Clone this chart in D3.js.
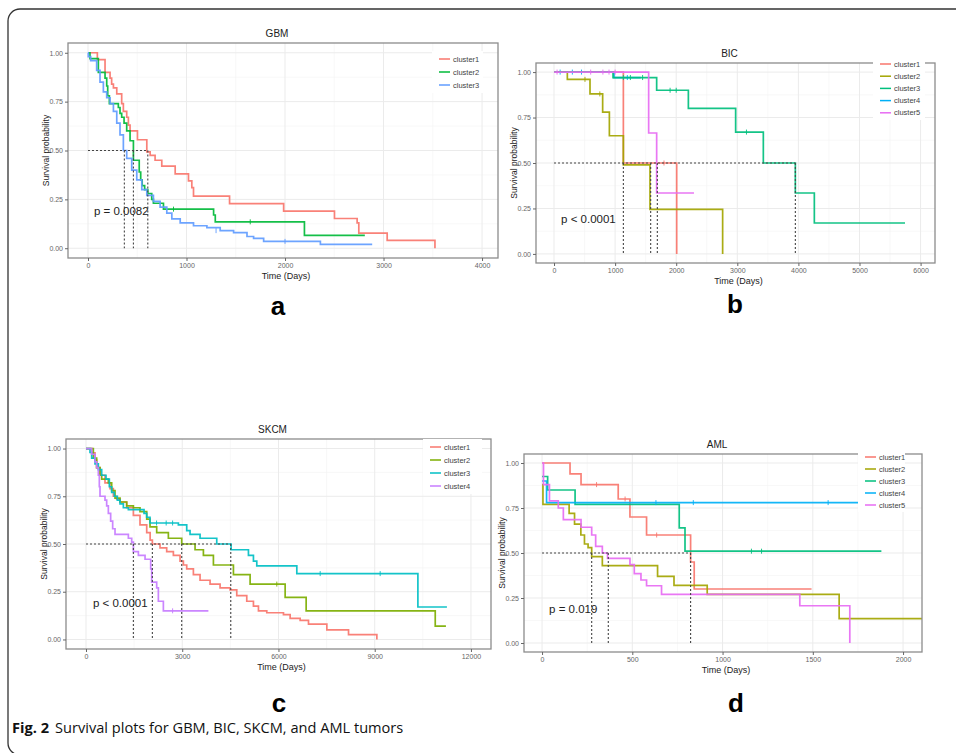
<!DOCTYPE html>
<html>
<head>
<meta charset="utf-8">
<script src="https://cdn.jsdelivr.net/npm/d3@7"></script>
<style>
body { margin: 0; background: #fff; }
svg text { font-family: "Liberation Sans", Arial, sans-serif; }
</style>
</head>
<body>
<svg id="fig" width="956" height="753"></svg>
<script>
// ---- data: [day, survival] steps ----
var gbmC1 = [[0,1],[95,0.965],[173,0.9],[224,0.87],[240,0.84],[258,0.82],[292,0.79],[342,0.74],[359,0.7],[393,0.67],[410,0.63],[427,0.6],[502,0.555],[597,0.493],[631,0.475],[681,0.45],[749,0.42],[885,0.38],[1020,0.345],[1054,0.31],[1071,0.267],[1437,0.228],[1986,0.19],[2502,0.152],[2732,0.13],[2749,0.077],[3037,0.04],[3522,0]];
var gbmC2 = [[0,1],[20,0.97],[105,0.9],[173,0.87],[190,0.83],[200,0.78],[217,0.74],[308,0.72],[325,0.69],[342,0.67],[366,0.64],[393,0.6],[427,0.55],[461,0.45],[520,0.39],[535,0.35],[550,0.32],[575,0.3],[607,0.28],[647,0.25],[664,0.23],[766,0.2],[1275,0.17],[1292,0.135],[2197,0.066],[2810,0.066]];
var gbmC3 = [[0,1],[3,0.98],[27,0.96],[88,0.91],[122,0.85],[156,0.8],[190,0.77],[224,0.74],[258,0.7],[292,0.64],[325,0.58],[359,0.5],[393,0.46],[444,0.4],[495,0.35],[546,0.3],[597,0.27],[664,0.24],[732,0.21],[800,0.18],[851,0.15],[936,0.13],[1071,0.115],[1207,0.105],[1342,0.09],[1478,0.08],[1614,0.06],[1681,0.05],[1783,0.035],[2359,0.02],[2885,0.02]];
var gbmCensor = [[], [[868,0.2],[1647,0.135]], [[1300,0.09],[2000,0.035]]];
var gbmMedians = [369, 461, 607];

var bicC1 = [[0,1],[1135,0.5],[2008,0]];
var bicC2 = [[0,1],[218,0.96],[589,0.88],[796,0.78],[906,0.65],[1135,0.49],[1571,0.245],[2760,0]];
var bicC3 = [[0,1],[966,0.97],[1680,0.9],[2199,0.8],[2973,0.67],[3426,0.5],[3950,0.335],[4261,0.17],[5745,0.17]];
var bicC4 = [[0,1],[982,0.97],[1420,0.97]];
var bicC5 = [[0,1],[1549,0.665],[1680,0.335],[2291,0.335]];
var bicCensor = [[[1800,0.5]], [[507,0.96],[750,0.88]], [[1135,0.97],[1250,0.97],[1450,0.97],[1900,0.9],[2000,0.9],[3150,0.67]], [[100,1],[300,1],[450,1],[1200,0.97]], [[50,1],[600,1],[800,1],[900,1],[1000,1]]];
var bicMedians = [1135, 1582, 1691, 3950];

var skcmC1 = [[0,1],[177,0.977],[281,0.94],[333,0.9],[437,0.86],[593,0.82],[749,0.79],[853,0.75],[957,0.735],[1061,0.72],[1269,0.69],[1477,0.65],[1684,0.6],[1893,0.56],[2000,0.52],[2069,0.5],[2308,0.48],[2516,0.46],[2724,0.44],[2932,0.41],[3036,0.39],[3140,0.37],[3348,0.34],[3556,0.31],[3868,0.29],[4180,0.27],[4492,0.26],[4700,0.23],[5012,0.2],[5220,0.175],[5376,0.15],[5636,0.14],[6156,0.13],[6364,0.11],[6676,0.1],[6936,0.08],[7508,0.05],[8184,0.025],[9067,0]];
var skcmC2 = [[0,1],[229,0.95],[333,0.9],[437,0.86],[489,0.84],[697,0.82],[801,0.78],[905,0.74],[1061,0.72],[1269,0.7],[1477,0.69],[1684,0.67],[1893,0.63],[1996,0.59],[2204,0.56],[2568,0.53],[2984,0.5],[3400,0.47],[3660,0.44],[3972,0.39],[4596,0.34],[5116,0.29],[6208,0.22],[6863,0.15],[10887,0.07],[11220,0.07]];
var skcmC3 = [[0,1],[125,0.98],[177,0.95],[281,0.92],[385,0.89],[489,0.86],[624,0.84],[728,0.8],[801,0.77],[884,0.75],[977,0.73],[1061,0.71],[1165,0.69],[1321,0.68],[1809,0.66],[1893,0.64],[1996,0.61],[2880,0.6],[3140,0.57],[3244,0.55],[3556,0.53],[4076,0.5],[4523,0.47],[5064,0.44],[5220,0.41],[5324,0.385],[6572,0.345],[10346,0.17],[11251,0.17]];
var skcmC4 = [[0,1],[177,0.97],[281,0.93],[333,0.9],[385,0.86],[416,0.8],[437,0.75],[593,0.73],[645,0.7],[697,0.66],[769,0.62],[832,0.58],[905,0.55],[1321,0.53],[1425,0.51],[1477,0.46],[1633,0.44],[1841,0.42],[2017,0.37],[2048,0.3],[2204,0.27],[2256,0.2],[2412,0.15],[3816,0.15]];
var skcmCensor = [[], [[5948,0.29]], [[2200,0.61],[2500,0.61],[2700,0.61],[7300,0.345],[9170,0.345]], [[2700,0.15]]];
var skcmMedians = [1477, 2069, 2984, 4513];

var amlC1 = [[0,1],[155,0.94],[216,0.88],[422,0.8],[487,0.7],[579,0.6],[823,0.45],[843,0.3],[1493,0.3]];
var amlC2 = [[0,0.88],[5,0.77],[150,0.72],[180,0.66],[215,0.6],[235,0.55],[255,0.53],[275,0.48],[334,0.43],[640,0.37],[731,0.32],[915,0.27],[1646,0.135],[2105,0.135]];
var amlC3 = [[0,0.925],[31,0.85],[183,0.77],[760,0.64],[792,0.51],[1880,0.51]];
var amlC4 = [[0,0.9],[25,0.78],[1751,0.78]];
var amlC5 = [[0,1],[8,0.88],[41,0.79],[90,0.75],[118,0.685],[216,0.643],[275,0.6],[297,0.537],[334,0.5],[363,0.47],[487,0.435],[511,0.385],[548,0.35],[579,0.318],[662,0.27],[1428,0.207],[1705,0]];
var amlCensor = [[[302,0.88],[460,0.8],[635,0.6]], [], [[1160,0.51],[1216,0.51]], [[631,0.78],[838,0.78],[1585,0.78]], []];
var amlMedians = [275, 367, 823];

var gbmTicks  = [0, 1000, 2000, 3000, 4000];
var bicTicks  = [0, 1000, 2000, 3000, 4000, 5000, 6000];
var skcmTicks = [0, 3000, 6000, 9000, 12000];
var amlTicks  = [0, 500, 1000, 1500, 2000];
var survTicks = [0, 0.25, 0.5, 0.75, 1];

var names3 = ["cluster1", "cluster2", "cluster3"];
var names4 = ["cluster1", "cluster2", "cluster3", "cluster4"];
var names5 = ["cluster1", "cluster2", "cluster3", "cluster4", "cluster5"];
var colors3 = ["#F8766D", "#00BA38", "#619CFF"];
var colors4 = ["#F8766D", "#7CAE00", "#00BFC4", "#C77CFF"];
var colors5 = ["#F8766D", "#A3A500", "#00BF7D", "#00B0F6", "#E76BF3"];

// layout of the four panels; drawOrder lists clusters from bottom to top
var panels = [
  {title: "GBM",  box: [68, 43, 498, 258],  xDomain: [-203, 4162],  ticks: gbmTicks,  curves: [gbmC1, gbmC2, gbmC3], censor: gbmCensor, drawOrder: [0, 1, 2], names: names3, colors: colors3, medians: gbmMedians, pval: "p = 0.0082", pvalX: 60,  legend: [432, 483, 59, 13],  letter: "a", letterPos: [278, 315]},
  {title: "BIC",  box: [536, 63, 935, 263], xDomain: [-295, 6236],  ticks: bicTicks,  curves: [bicC1, bicC2, bicC3, bicC4, bicC5], censor: bicCensor, drawOrder: [3, 0, 1, 2, 4], names: names5, colors: colors5, medians: bicMedians, pval: "p < 0.0001", pvalX: 115, legend: [873, 925, 64, 12.2], letter: "b", letterPos: [735, 313]},
  {title: "SKCM", box: [66, 439, 491, 649], xDomain: [-623, 12625], ticks: skcmTicks, curves: [skcmC1, skcmC2, skcmC3, skcmC4], censor: skcmCensor, drawOrder: [0, 1, 2, 3], names: names4, colors: colors4, medians: skcmMedians, pval: "p < 0.0001", pvalX: 218, legend: [423, 482, 447, 13], letter: "c", letterPos: [279, 712]},
  {title: "AML",  box: [524, 454, 922, 652], xDomain: [-100, 2105],  ticks: amlTicks,  curves: [amlC1, amlC2, amlC3, amlC4, amlC5], censor: amlCensor, drawOrder: [0, 1, 2, 3, 4], names: names5, colors: colors5, medians: amlMedians, pval: "p = 0.019", pvalX: 39, legend: [858, 905, 457, 12], letter: "d", letterPos: [736, 712]}
];

var svg = d3.select("#fig");

// outer frame with rounded left corners
svg.append("path")
  .attr("d", "M956,9 H20 A12,12 0 0 0 8,21 V743 A12,12 0 0 0 20,755")
  .attr("fill", "none")
  .attr("stroke", "#333")
  .attr("stroke-width", 1.3);

function draw_panel (p) {
  var left = p.box[0], top = p.box[1], right = p.box[2], bottom = p.box[3];
  var x = d3.scaleLinear().domain(p.xDomain).range([left, right]);
  var y = d3.scaleLinear().domain([-0.05, 1.05]).range([bottom, top]);
  var g = svg.append("g");

  // minor and major grid
  var step = p.ticks[1] - p.ticks[0];
  var xMinor = [p.ticks[0] - step / 2].concat(p.ticks.map(function (d) { return d + step / 2; }));
  var yMinor = survTicks.slice(0, -1).map(function (d, i) { return (d + survTicks[i + 1]) / 2; });
  g.selectAll(".xminor").data(xMinor.filter(function (d) { return x(d) > left && x(d) < right; })).enter().append("line")
    .attr("x1", x).attr("x2", x).attr("y1", top).attr("y2", bottom)
    .attr("stroke", "#f3f3f3").attr("stroke-width", 0.6);
  g.selectAll(".yminor").data(yMinor).enter().append("line")
    .attr("x1", left).attr("x2", right).attr("y1", y).attr("y2", y)
    .attr("stroke", "#f3f3f3").attr("stroke-width", 0.6);
  g.selectAll(".xmajor").data(p.ticks.filter(function (d) { return x(d) < right; })).enter().append("line")
    .attr("x1", x).attr("x2", x).attr("y1", top).attr("y2", bottom)
    .attr("stroke", "#ebebeb").attr("stroke-width", 1);
  g.selectAll(".ymajor").data(survTicks).enter().append("line")
    .attr("x1", left).attr("x2", right).attr("y1", y).attr("y2", y)
    .attr("stroke", "#ebebeb").attr("stroke-width", 1);

  // survival curves with censor ticks
  var line = d3.line()
    .curve(d3.curveStepAfter)
    .x(function (d) { return x(d[0]); })
    .y(function (d) { return y(d[1]); });
  p.drawOrder.forEach(function (i) {
    g.append("path")
      .attr("d", line(p.curves[i]))
      .attr("fill", "none")
      .attr("stroke", p.colors[i])
      .attr("stroke-opacity", 0.92)
      .attr("stroke-width", 1.7);
    g.selectAll(null).data(p.censor[i]).enter().append("line")
      .attr("x1", function (d) { return x(d[0]); })
      .attr("x2", function (d) { return x(d[0]); })
      .attr("y1", function (d) { return y(d[1]) - 2.5; })
      .attr("y2", function (d) { return y(d[1]) + 2.5; })
      .attr("stroke", p.colors[i]).attr("stroke-width", 0.9);
  });

  // median survival guides
  var maxMed = d3.max(p.medians);
  g.append("line")
    .attr("x1", x(0)).attr("x2", x(maxMed))
    .attr("y1", y(0.5)).attr("y2", y(0.5))
    .attr("stroke", "#444").attr("stroke-width", 1.1).attr("stroke-dasharray", "2,2");
  g.selectAll(".med").data(p.medians).enter().append("line")
    .attr("x1", x).attr("x2", x)
    .attr("y1", y(0.5)).attr("y2", y(0))
    .attr("stroke", "#444").attr("stroke-width", 1.1).attr("stroke-dasharray", "2,2");

  // panel border
  g.append("rect")
    .attr("x", left).attr("y", top)
    .attr("width", right - left).attr("height", bottom - top)
    .attr("fill", "none").attr("stroke", "#8c8c8c").attr("stroke-width", 1.3);

  // legend
  var lg = p.legend;
  g.append("rect")
    .attr("x", lg[0]).attr("y", lg[2] - 8)
    .attr("width", lg[1] - lg[0]).attr("height", p.names.length * lg[3] + 3)
    .attr("fill", "#fff");
  p.names.forEach(function (n, i) {
    var ly = lg[2] + i * lg[3];
    g.append("line")
      .attr("x1", lg[0] + 7).attr("x2", lg[0] + 18)
      .attr("y1", ly).attr("y2", ly)
      .attr("stroke", p.colors[i]).attr("stroke-width", 1.5);
    g.append("text")
      .attr("x", lg[0] + 21).attr("y", ly)
      .attr("dy", "0.35em")
      .attr("font-size", 7.5).attr("fill", "#444")
      .text(n);
  });

  // axes
  var xAxis = g.append("g")
    .attr("transform", "translate(0," + bottom + ")")
    .call(d3.axisBottom(x).tickValues(p.ticks).tickFormat(d3.format("d")).tickSize(3).tickPadding(2));
  var yAxis = g.append("g")
    .attr("transform", "translate(" + left + ",0)")
    .call(d3.axisLeft(y).tickValues(survTicks).tickFormat(d3.format(".2f")).tickSize(3).tickPadding(2));
  [xAxis, yAxis].forEach(function (a) {
    a.attr("font-family", null);
    a.select(".domain").remove();
    a.selectAll(".tick line").attr("stroke", "#666");
    a.selectAll(".tick text").attr("font-size", 7).attr("fill", "#666");
  });

  // titles
  g.append("text")
    .attr("x", (left + right) / 2 - 6).attr("y", top - 6)
    .attr("text-anchor", "middle").attr("font-size", 10).attr("fill", "#222")
    .text(p.title);
  g.append("text")
    .attr("x", (left + right) / 2 + 3).attr("y", bottom + 21)
    .attr("text-anchor", "middle").attr("font-size", 9).attr("fill", "#222")
    .text("Time (Days)");
  g.append("text")
    .attr("transform", "translate(" + (left - 19) + "," + (top + bottom) / 2 + ") rotate(-90)")
    .attr("text-anchor", "middle").attr("font-size", 8.5).attr("fill", "#222")
    .text("Survival probability");
  g.append("text")
    .attr("x", x(p.pvalX)).attr("y", y(0.19))
    .attr("dy", "0.35em")
    .attr("font-size", 11.5).attr("fill", "#222")
    .text(p.pval);

  // panel letter
  svg.append("text")
    .attr("x", p.letterPos[0]).attr("y", p.letterPos[1])
    .attr("text-anchor", "middle")
    .attr("font-size", 26).attr("font-weight", "bold").attr("fill", "#000")
    .text(p.letter);
}

panels.forEach(draw_panel);

// caption
var cap = svg.append("text")
  .attr("x", 12).attr("y", 733)
  .attr("font-size", 14.6)
  .attr("fill", "#111")
  .style("font-family", "'Open Sans', 'Noto Sans', sans-serif");
cap.append("tspan").attr("font-weight", "bold").text("Fig. 2");
cap.append("tspan").attr("dx", 6).text("Survival plots for GBM, BIC, SKCM, and AML tumors");
</script>
</body>
</html>
